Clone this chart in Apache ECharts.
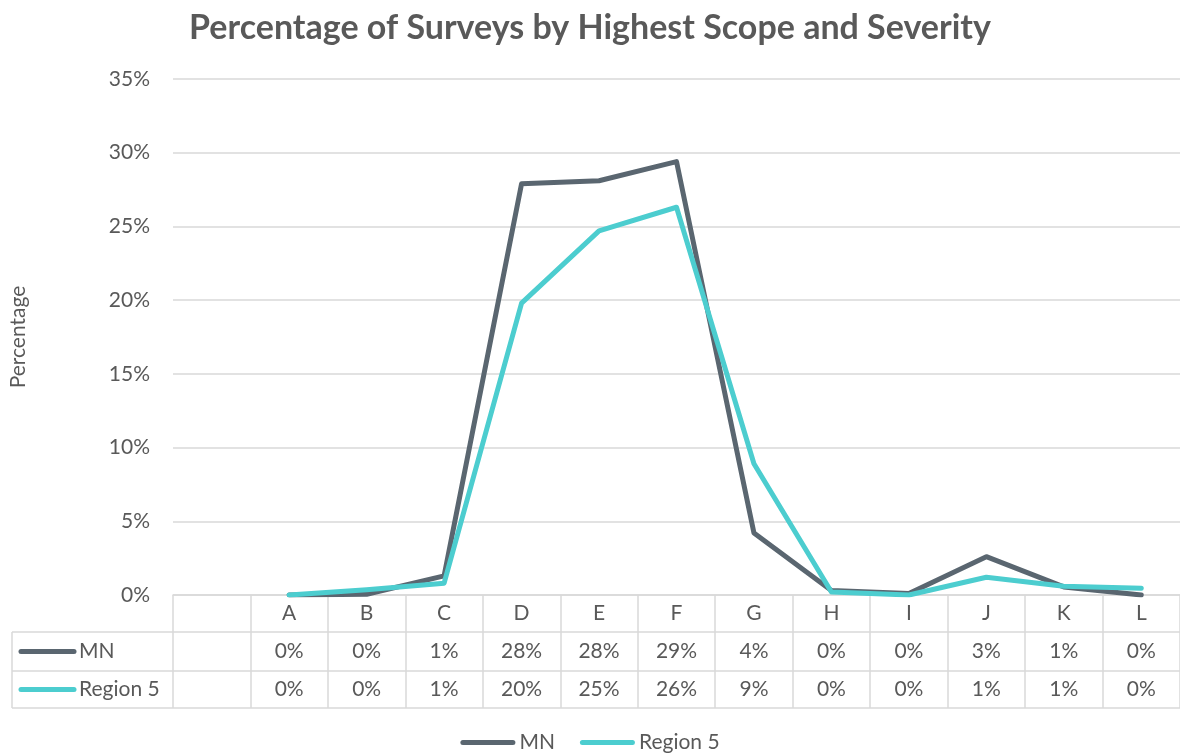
<!DOCTYPE html>
<html>
<head>
<meta charset="utf-8">
<title>Percentage of Surveys by Highest Scope and Severity</title>
<script src="https://cdn.jsdelivr.net/npm/echarts@6/dist/echarts.min.js"></script>
<style>
  html, body { margin: 0; padding: 0; background: #ffffff; }
  #chart { width: 1180px; height: 756px; }
</style>
</head>
<body>
<div id="chart"></div>
<script>
// Scope and severity levels (A–L), in percent of surveys
const categories = ['A', 'B', 'C', 'D', 'E', 'F', 'G', 'H', 'I', 'J', 'K', 'L'];
const mnValues = [0, 0.05, 1.3, 27.9, 28.1, 29.4, 4.2, 0.3, 0.1, 2.6, 0.55, 0];
const region5Values = [0, 0.35, 0.8, 19.8, 24.7, 26.3, 8.9, 0.2, 0, 1.2, 0.6, 0.45];
const seriesNames = ['MN', 'Region 5'];
const seriesColors = ['#5a6670', '#4ccdcf'];
const yTicks = { min: 0, max: 35, step: 5 };

// Layout of the plot and the data table underneath it
const FONT = 'Lato, "Open Sans", sans-serif';
const FS = 21;
const TEXT = '#595959';
const RULE = '#d9d9d9';
const plot = { left: 170, top: 79, width: 1014, height: 516 };
const rows = { header: 37, first: 39, second: 37 };
const tableLeft = 12;

// The axis category list starts with an empty slot, which the table uses
// as a spacer column next to the series keys.
const axisCategories = [''].concat(categories);
const withSpacer = values => ['-'].concat(values);
const pct = v => Math.round(v) + '%';

const chart = echarts.init(document.getElementById('chart'), null, { renderer: 'canvas' });

const tableHeight = rows.header + rows.first + rows.second;
const axisY = plot.top + plot.height;
const rowY1 = axisY + rows.header;
const rowY2 = rowY1 + rows.first;
const rowY3 = rowY2 + rows.second;
const tableRight = plot.left + plot.width;

function keyGroup(name, color, yTop, h) {
  const cy = yTop + h / 2;
  return [
    {
      type: 'line',
      shape: { x1: tableLeft + 9, y1: cy, x2: tableLeft + 62, y2: cy },
      style: { stroke: color, lineWidth: 5, lineCap: 'round' },
      z: 10
    },
    {
      type: 'text',
      x: tableLeft + 67, y: cy,
      style: { text: name, fill: TEXT, font: FS + 'px ' + FONT, verticalAlign: 'middle', align: 'left' },
      z: 10
    }
  ];
}

const tableGraphics = [
  { type: 'line', shape: { x1: tableLeft, y1: rowY1, x2: tableRight, y2: rowY1 }, style: { stroke: RULE, lineWidth: 1.5 } },
  { type: 'line', shape: { x1: tableLeft, y1: rowY2, x2: tableRight, y2: rowY2 }, style: { stroke: RULE, lineWidth: 1.5 } },
  { type: 'line', shape: { x1: tableLeft, y1: rowY3, x2: tableRight, y2: rowY3 }, style: { stroke: RULE, lineWidth: 1.5 } },
  { type: 'line', shape: { x1: tableLeft, y1: rowY1, x2: tableLeft, y2: rowY3 }, style: { stroke: RULE, lineWidth: 1.5 } }
].concat(
  keyGroup(seriesNames[0], seriesColors[0], rowY1, rows.first),
  keyGroup(seriesNames[1], seriesColors[1], rowY2, rows.second)
);

const option = {
  backgroundColor: '#ffffff',
  animation: false,
  textStyle: { fontFamily: FONT, color: TEXT },
  title: {
    text: 'Percentage of Surveys by Highest Scope and Severity',
    left: 'center',
    top: 6,
    textStyle: { fontFamily: FONT, fontWeight: 'bold', fontSize: 34, color: TEXT }
  },
  legend: {
    top: 727,
    left: 'center',
    itemWidth: 55,
    itemHeight: 5,
    itemGap: 25,
    icon: 'path://M2.5,0 H52.5 A2.5,2.5 0 0 1 52.5,5 H2.5 A2.5,2.5 0 0 1 2.5,0 Z',
    textStyle: { fontFamily: FONT, fontSize: FS, color: TEXT, padding: [0, 0, 0, -1] },
    data: seriesNames
  },
  grid: { left: plot.left, top: plot.top, width: plot.width, height: plot.height, containLabel: false },
  xAxis: {
    type: 'category',
    data: axisCategories,
    boundaryGap: true,
    axisLine: { show: true, lineStyle: { color: RULE, width: 1.5 } },
    axisTick: { show: true, interval: 0, length: tableHeight, alignWithLabel: false, lineStyle: { color: RULE, width: 1.5 } },
    axisLabel: {
      interval: 0,
      margin: 0,
      color: TEXT,
      fontFamily: FONT,
      fontSize: FS,
      formatter: function (value, index) {
        if (!value) return '';
        const i = categories.indexOf(value);
        return '{h|' + value + '}\n{r1|' + pct(mnValues[i]) + '}\n{r2|' + pct(region5Values[i]) + '}';
      },
      rich: {
        h: { height: rows.header, lineHeight: rows.header, fontSize: FS, color: TEXT, fontFamily: FONT },
        r1: { height: rows.first, lineHeight: rows.first, fontSize: FS, color: TEXT, fontFamily: FONT },
        r2: { height: rows.second, lineHeight: rows.second, fontSize: FS, color: TEXT, fontFamily: FONT }
      }
    },
    splitLine: { show: false }
  },
  yAxis: {
    type: 'value',
    min: yTicks.min,
    max: yTicks.max,
    interval: yTicks.step,
    name: 'Percentage',
    nameLocation: 'middle',
    nameGap: 144,
    nameRotate: 90,
    nameTextStyle: { fontFamily: FONT, fontSize: FS, color: TEXT },
    axisLine: { show: false },
    axisTick: { show: false },
    axisLabel: { margin: 23, color: TEXT, fontFamily: FONT, fontSize: FS, formatter: '{value}%' },
    splitLine: { show: true, lineStyle: { color: RULE, width: 1.5 } }
  },
  series: [
    {
      name: seriesNames[0],
      type: 'line',
      data: withSpacer(mnValues),
      symbol: 'none',
      color: seriesColors[0],
      lineStyle: { width: 5, color: seriesColors[0], cap: 'round', join: 'round' },
      z: 3
    },
    {
      name: seriesNames[1],
      type: 'line',
      data: withSpacer(region5Values),
      symbol: 'none',
      color: seriesColors[1],
      lineStyle: { width: 5, color: seriesColors[1], cap: 'round', join: 'round' },
      z: 4
    }
  ],
  graphic: tableGraphics
};

chart.setOption(option);
</script>
</body>
</html>
